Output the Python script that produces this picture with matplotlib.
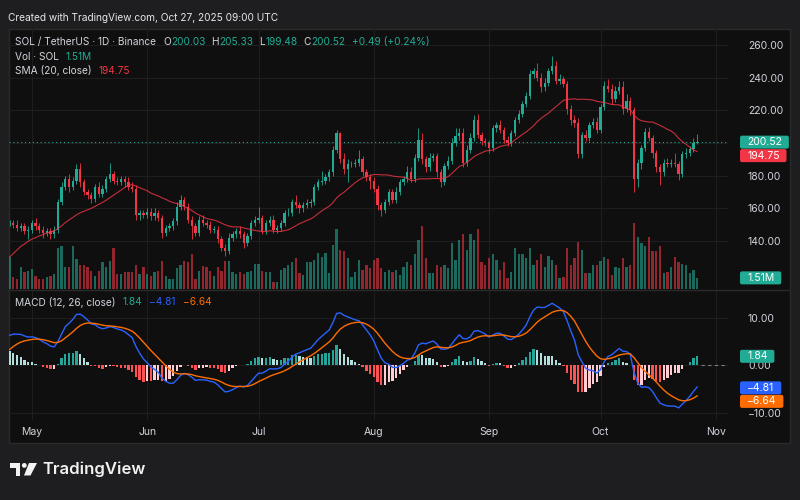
import numpy as np
import pandas as pd
import matplotlib
matplotlib.use("Agg")
import matplotlib.pyplot as plt
import matplotlib.dates as mdates
from matplotlib.patches import Rectangle, FancyBboxPatch, Polygon, Circle
from matplotlib.ticker import FuncFormatter
from matplotlib.transforms import IdentityTransform

plt.rcParams['font.family'] = ['Inter', 'DejaVu Sans']

W, H = 800, 500

first_day = '2025-04-25'

# daily closes Mar 1 - Apr 24 (off screen, only warms up SMA / MACD)
close_before = [148, 178, 142, 143, 144, 141, 137, 136, 127, 125,
                125, 124, 122, 133, 134, 128, 128, 126, 134, 131,
                130, 129, 134, 143, 143, 139, 142, 130, 125, 125, 124,
                128, 117, 117, 120, 120, 106, 105, 106, 117, 113,
                124, 131, 126, 130, 125, 132, 134, 135, 139, 139,
                140, 147, 152, 151]

# SOL/USDT daily closes, Apr 25 - Oct 27 2025
close = [151, 150, 148, 149, 146, 147, 151, 149, 147, 145,
         146, 144, 147, 164, 173, 178, 173, 177, 184, 176,
         170, 168, 166, 173, 169, 172, 178, 181, 177, 176,
         178, 176, 173, 172, 156, 157, 156, 158, 155, 157,
         154, 145, 148, 149, 152, 161, 165, 161, 153, 149,
         145, 153, 151, 150, 147, 147, 141, 136, 134, 142,
         144, 146, 144, 139, 143, 151, 153, 154, 146, 151,
         153, 147, 148, 151, 157, 157, 164, 162, 160, 162,
         163, 164, 173, 176, 177, 179, 182, 196, 206, 190,
         184, 187, 187, 188, 190, 182, 179, 177, 172, 162,
         159, 164, 170, 165, 170, 176, 178, 182, 178, 191,
         202, 190, 185, 191, 192, 182, 176, 186, 189, 200,
         204, 206, 188, 196, 203, 214, 205, 201, 200, 197,
         209, 211, 208, 202, 200, 206, 214, 218, 224, 229,
         242, 244, 240, 234, 237, 244, 247, 238, 239, 236,
         221, 214, 212, 193, 205, 203, 211, 213, 208, 222,
         235, 233, 227, 232, 234, 221, 226, 220, 178, 188,
         197, 207, 203, 194, 185, 182, 188, 187, 188, 187,
         181, 193, 194, 196.45, 200.03, 200.52]

# wick lengths above / below the body
wick_up = [2, 2, 3, 2, 2, 2, 2, 3, 2, 2,
           2, 2, 2, 2, 3, 2, 3, 2, 3, 4,
           2, 2, 2, 2, 3, 2, 2, 7, 2, 2,
           2, 2, 3, 3, 2, 2, 2, 2, 2, 3,
           2, 2, 2, 2, 2, 3, 3, 2, 2, 2,
           2, 2, 3, 2, 2, 2, 2, 2, 2, 3,
           2, 2, 3, 2, 2, 2, 2, 7, 2, 2,
           2, 3, 2, 2, 2, 3, 2, 4, 2, 2,
           3, 2, 2, 2, 6, 2, 2, 2, 2, 1,
           4, 3, 2, 2, 6, 2, 2, 2, 2, 2,
           2, 2, 2, 2, 3, 2, 2, 4, 3, 2,
           7, 4, 2, 3, 2, 2, 2, 2, 3, 3,
           5, 3, 3, 3, 3, 3, 4, 2, 2, 2,
           2, 2, 3, 2, 2, 2, 2, 2, 2, 2,
           3, 2, 5, 3, 3, 2, 6, 3, 3, 2,
           2, 2, 3, 3, 2, 3, 2, 2, 3, 2,
           3, 4, 3, 3, 4, 4, 4, 2, 2, 2,
           2, 2, 3, 2, 2, 2, 2, 3, 2, 6,
           2, 2, 3, 2, 3, 4.81]
wick_dn = [2, 2, 2, 2, 2, 5, 2, 2, 2, 3,
           2, 3, 2, 2, 2, 2, 3, 2, 2, 3,
           2, 2, 3, 2, 2, 2, 2, 2, 2, 2,
           2, 3, 2, 2, 3, 3, 2, 2, 2, 2,
           2, 3, 2, 2, 2, 2, 2, 2, 2, 8,
           2, 2, 2, 2, 2, 2, 2, 2, 3, 2,
           2, 2, 2, 3, 2, 2, 2, 2, 2, 2,
           2, 2, 2, 2, 2, 2, 2, 2, 3, 2,
           2, 2, 2, 2, 2, 2, 2, 2, 2, 2,
           3, 8, 2, 2, 2, 2, 2, 5, 2, 3,
           4, 2, 2, 2, 2, 2, 2, 2, 2, 2,
           2, 3, 3, 2, 2, 3, 3, 2, 2, 2,
           2, 2, 3, 2, 2, 2, 2, 2, 2, 3,
           2, 2, 2, 2, 2, 2, 2, 2, 2, 2,
           2, 2, 2, 3, 2, 2, 2, 2, 2, 2,
           3, 3, 2, 2, 2, 2, 2, 2, 2, 2,
           2, 2, 3, 2, 2, 3, 2, 3, 8, 5,
           4, 2, 2, 3, 3, 7.5, 2, 2, 2, 2,
           3.5, 2, 2, 2, 2, 0.55]

# volume in millions of SOL
volume_m = [4.4, 1.6, 1.4, 3.0, 2.3, 2.5, 2.7, 1.8, 1.4, 1.4,
            1.6, 1.8, 2.0, 5.5, 5.8, 3.0, 3.0, 5.8, 4.1, 3.2,
            3.2, 3.0, 2.5, 1.8, 2.5, 3.7, 3.0, 3.8, 5.5, 2.0,
            2.0, 2.3, 2.3, 2.3, 3.2, 2.1, 3.0,
            2.0, 1.8, 2.3, 2.5, 3.8, 1.8, 1.4, 1.4, 2.8, 3.2,
            3.8, 3.6, 4.8, 1.4, 2.5, 3.1, 3.0, 2.5, 1.8, 3.0,
            2.5, 3.8, 3.8, 2.3, 2.0, 2.3, 2.0, 2.3, 2.5, 3.4,
            3.4, 2.5, 2.3, 2.3, 0.9, 0.9,
            2.6, 2.9, 3.3, 3.6, 4.2, 2.2, 1.9, 3.7, 3.6, 4.0,
            4.9, 4.4, 4.9, 2.2, 6.0, 8.1, 5.3, 5.1, 4.2, 1.6,
            2.3, 4.0, 2.6, 3.3, 2.9, 4.0, 4.2, 2.9, 2.3, 2.6,
            2.3, 2.6, 1.9, 3.0, 3.6, 3.3, 4.8, 6.7, 8.5,
            4.2, 2.2, 2.2, 3.3, 3.0, 3.3, 2.9, 6.3, 4.0, 6.7,
            7.4, 5.3, 7.4, 6.7, 8.1, 3.7, 3.3, 4.2, 4.7, 4.0,
            2.6, 3.6, 1.5, 2.3, 5.5, 4.8, 4.8, 4.2, 5.6, 3.3,
            4.0, 4.7, 3.0, 4.5, 4.0, 3.2, 1.5,
            1.6, 5.6, 3.3, 4.2, 6.4, 5.3, 2.2, 2.2, 3.2, 3.2,
            3.8, 4.4, 4.1, 1.9, 3.0, 2.9, 4.2, 3.0, 3.3, 9.0,
            7.0, 6.2, 5.9, 7.0, 5.1, 5.1, 5.8, 2.2, 2.3, 3.0,
            4.4, 3.7, 3.4, 3.3, 2.2, 2.6, 1.51]

# MACD readout printed by TradingView: histogram, MACD, signal
macd_readout = [1.84, -4.81, -6.64]

price_ticks = [140, 160, 180, 200, 220, 240, 260]
macd_ticks = [-10, 0, 10]

UP = '#22ab94'
DOWN = '#f23645'
FG = '#d1d4dc'
BLUE = '#2962ff'
ORANGE = '#ff6d00'
BG = '#0f0f0f'
GRID = '#1e1e1e'
TXT = 7.3

# ---- series -------------------------------------------------------------
close = np.array(close, float)
n = len(close)
dates = pd.date_range(first_day, periods=n, freq='D')
x = mdates.date2num(dates)
opn = np.r_[close_before[-1], close[:-1]]
high = np.maximum(opn, close) + np.array(wick_up)
low = np.minimum(opn, close) - np.array(wick_dn)
volume = np.array(volume_m)
rising = close >= opn
col = np.where(rising, UP, DOWN)

full = pd.Series(list(close_before) + list(close))
sma20 = full.rolling(20).mean().to_numpy()[-n:]
macd_full = full.ewm(span=12, adjust=False).mean() - full.ewm(span=26, adjust=False).mean()
signal_full = macd_full.ewm(span=9, adjust=False).mean()
hist_full = (macd_full - signal_full).to_numpy()
macd = macd_full.to_numpy()[-n:]
signal = signal_full.to_numpy()[-n:]
hist = hist_full[-n:]
hist_prev = hist_full[-n - 1:-1]
hcol = np.where(hist >= 0,
                np.where(hist > hist_prev, '#26a69a', '#b2dfdb'),
                np.where(hist > hist_prev, '#ffcdd2', '#ff5252'))

# ---- figure -------------------------------------------------------------
fig = plt.figure(figsize=(W / 100, H / 100), dpi=100, facecolor='#1e1e20')
fig.add_artist(Rectangle((9 / W, 1 - 443 / H), 781 / W, 414 / H, transform=fig.transFigure,
                         fc=BG, ec='#2a2a2a', lw=1, zorder=-5))
fig.add_artist(plt.Line2D([9 / W, 790 / W], [1 - 290 / H] * 2, transform=fig.transFigure,
                          color='#2a2a2a', lw=1, zorder=-4))

ax = fig.add_axes([9 / W, 1 - 289 / H, 719 / W, 260 / H])
axm = fig.add_axes([9 / W, 1 - 420 / H, 719 / W, 129 / H], sharex=ax)

for a in (ax, axm):
    a.set_facecolor('none')
    for s in a.spines.values():
        s.set_visible(False)
    a.yaxis.tick_right()
    a.tick_params(axis='y', length=0, pad=14.4, labelsize=7.5, labelcolor=FG)
    a.tick_params(axis='x', length=0)
    a.grid(True, color=GRID, lw=0.8)
    a.set_axisbelow(True)

x_right = x[0] + 193.3
ax.set_xlim(x[0] - 0.15, x_right)
ax.set_ylim(110.6, 269.8)
axm.set_ylim(-11.58, 15.6)

# price pane
vol_top = volume.max() / 0.255
ax.bar(x, volume / vol_top, width=0.62, color=col, alpha=0.58, lw=0,
       transform=ax.get_xaxis_transform(), zorder=2)
ax.vlines(x, low, high, colors=col, lw=0.6, zorder=3)
ax.bar(x, np.maximum(np.abs(close - opn), 0.3), bottom=np.minimum(opn, close),
       width=0.62, color=col, lw=0, zorder=4)
ax.plot(x, sma20, color=DOWN, lw=0.8, alpha=0.8, zorder=5)
ax.axhline(close[-1], color=UP, lw=0.8, ls=(0, (1, 2.5)), zorder=1)

# the last-price tag sits over the nearest scale label, so leave that one empty
ax.set_yticks(price_ticks)
ax.yaxis.set_major_formatter(FuncFormatter(
    lambda v, p: '' if abs(v - close[-1]) < 5 else f'{v:.2f}'))
ax.tick_params(axis='x', labelbottom=False)

# MACD pane
axm.bar(x, hist, width=0.62, color=hcol, lw=0, zorder=2)
axm.plot(x, macd, color=BLUE, lw=1.0, zorder=3)
axm.plot(x, signal, color=ORANGE, lw=1.0, zorder=3)
axm.hlines(0, x[-1] + 1, x_right, colors='#787b86', lw=0.8, linestyles=(0, (3, 3)))
axm.set_yticks(macd_ticks)
axm.yaxis.set_major_formatter(FuncFormatter(lambda v, p: f'{v:.2f}'.replace('-', '\u2212')))
axm.xaxis.set_major_locator(mdates.MonthLocator())
axm.xaxis.set_major_formatter(mdates.DateFormatter('%b'))
axm.tick_params(axis='x', labelsize=7.5, labelcolor=FG, pad=5)

renderer = fig.canvas.get_renderer()


def fmt(v):
    return f'{v:.2f}'.replace('-', '\u2212')


def run(x0, y0, parts, size=TXT):
    """Texts in a row; y0 counted from the top in pixels."""
    xx = x0
    for s, c, gap in parts:
        xx += gap
        t = fig.text(xx / W, 1 - y0 / H, s, color=c, fontsize=size, va='center', ha='left')
        xx += t.get_window_extent(renderer).width


def tags(items):
    """Coloured value boxes on the price scale, pushed apart if they overlap."""
    items = sorted(items, key=lambda it: -it[0])
    last = None
    for y, s, c in items:
        if last is not None and last - y < 13.5:
            y = last - 13.5
        last = y
        t = fig.text(747 / W, y / H, s, color='white', fontsize=7.5, va='center',
                     ha='left', zorder=11)
        w = t.get_window_extent(renderer).width
        fig.add_artist(FancyBboxPatch((740, y - 6.5), w + 14, 13,
                                      boxstyle='round,pad=0,rounding_size=2',
                                      transform=IdentityTransform(), fc=c, ec='none', zorder=10))


def ydisp(a, v):
    return a.transData.transform((x[0], v))[1]


chg = close[-1] - opn[-1]
tags([(ydisp(ax, close[-1]), fmt(close[-1]), UP),
      (ydisp(ax, sma20[-1]), fmt(sma20[-1]), DOWN),
      (ax.transAxes.transform((0, volume[-1] / vol_top))[1], f'{volume[-1]:.2f}M', UP)])
tags([(ydisp(axm, macd_readout[0]), fmt(macd_readout[0]), UP),
      (ydisp(axm, macd_readout[1]), fmt(macd_readout[1]), BLUE),
      (ydisp(axm, macd_readout[2]), fmt(macd_readout[2]), ORANGE)])

# legends
fig.text(8 / W, 1 - 18 / H, 'Created with TradingView.com, Oct 27, 2025 09:00 UTC',
         color='#e6e6e6', fontsize=TXT, va='center', ha='left')
run(15, 42, [('SOL / TetherUS \u00b7 1D \u00b7 Binance', FG, 0),
             ('O', FG, 7), (f'{opn[-1]:.2f}', UP, 0.5),
             ('H', FG, 6), (f'{high[-1]:.2f}', UP, 0.5),
             ('L', FG, 6), (f'{low[-1]:.2f}', UP, 0.5),
             ('C', FG, 6), (f'{close[-1]:.2f}', UP, 0.5),
             (f'{chg:+.2f} ({chg / opn[-1] * 100:+.2f}%)', UP, 6)])
run(15, 57, [('Vol \u00b7 SOL', FG, 0), (f'{volume[-1]:.2f}M', UP, 7)])
run(15, 71, [('SMA (20, close)', FG, 0), (fmt(sma20[-1]), DOWN, 7)])
run(15, 302, [('MACD (12, 26, close)', FG, 0), (fmt(macd_readout[0]), UP, 7),
              (fmt(macd_readout[1]), BLUE, 7), (fmt(macd_readout[2]), ORANGE, 7)])

# TradingView logo
def px(pts):
    return [(a, H - b) for a, b in pts]


logo = dict(transform=IdentityTransform(), fc='#f2f2f2', ec='none')
fig.add_artist(Polygon(px([(10, 463), (20, 463), (20, 475.5), (15.5, 475.5), (15.5, 467.5), (10, 467.5)]), **logo))
fig.add_artist(Circle((24.3, H - 465.4), 2.4, **logo))
fig.add_artist(Polygon(px([(29, 463), (37, 463), (30.5, 475.5), (24, 475.5)]), **logo))
fig.text(42 / W, 1 - 469 / H, 'TradingView', color='#f2f2f2', fontsize=12,
         fontweight='semibold', va='center', ha='left')

fig.savefig('out.png', dpi=100, facecolor=fig.get_facecolor())
